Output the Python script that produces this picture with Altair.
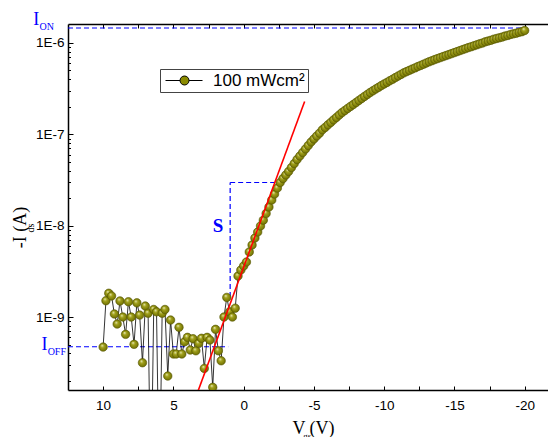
import altair as alt
import pandas as pd

# ---- measured transfer curve (gate voltage sweep, V) ----
vgs = [10.0, 9.8, 9.6, 9.4, 9.2, 9.0, 8.8, 8.6, 8.4, 8.2,
       8.0, 7.8, 7.6, 7.4, 7.2, 7.0, 6.8, 6.6, 6.4, 6.2,
       6.0, 5.8, 5.6, 5.4, 5.2, 5.0, 4.8, 4.6, 4.4, 4.2,
       4.0, 3.8, 3.6, 3.4, 3.2, 3.0, 2.8, 2.6, 2.4, 2.2,
       2.0, 1.8, 1.6, 1.4, 1.2, 1.0, 0.8, 0.6, 0.4, 0.2,
       0.0, -0.2, -0.4, -0.6, -0.8, -1.0, -1.2, -1.4, -1.6, -1.8,
       -2.0, -2.2, -2.4, -2.6, -2.8, -3.0, -3.2, -3.4, -3.6, -3.8,
       -4.0, -4.2, -4.4, -4.6, -4.8, -5.0, -5.2, -5.4, -5.6, -5.8,
       -6.0, -6.2, -6.4, -6.6, -6.8, -7.0, -7.2, -7.4, -7.6, -7.8,
       -8.0, -8.2, -8.4, -8.6, -8.8, -9.0, -9.2, -9.4, -9.6, -9.8,
       -10.0, -10.2, -10.4, -10.6, -10.8, -11.0, -11.2, -11.4, -11.6, -11.8,
       -12.0, -12.2, -12.4, -12.6, -12.8, -13.0, -13.2, -13.4, -13.6, -13.8,
       -14.0, -14.2, -14.4, -14.6, -14.8, -15.0, -15.2, -15.4, -15.6, -15.8,
       -16.0, -16.2, -16.4, -16.6, -16.8, -17.0, -17.2, -17.4, -17.6, -17.8,
       -18.0, -18.2, -18.4, -18.6, -18.8, -19.0, -19.2, -19.4, -19.6, -19.8,
       -20.0]

# -Ids in A (values below the axis floor are drawn off-chart, as in the figure)
ids = [4.69e-10, 1.51e-9, 1.82e-9, 1.70e-9, 1.08e-9, 8.38e-10, 1.50e-9, 1.00e-9, 6.46e-10, 1.47e-9,
       1.00e-9, 5.02e-10, 1.43e-9, 1.05e-9, 3.16e-10, 1.32e-9, 1.10e-9, 1e-11, 1.21e-9, 1.14e-9,
       1e-11, 1.10e-9, 1.21e-9, 2.26e-10, 9.27e-10, 3.94e-10, 3.94e-10, 7.71e-10, 3.94e-10, 5.36e-10,
       5.99e-10, 4.35e-10, 5.79e-10, 4.27e-10, 5.15e-10, 5.85e-10, 2.74e-10, 5.99e-10, 5.60e-10, 1.70e-10,
       7.33e-10, 4.27e-10, 3.32e-10, 1.00e-9, 1.64e-9, 1.14e-9, 1.00e-9, 1.25e-9, 2.81e-9, 3.27e-9,
       3.62e-9, 4.00e-9, 5.15e-9, 6.14e-9, 7.33e-9, 8.52e-9, 9.92e-9, 1.15e-8, 1.36e-8, 1.60e-8,
       1.91e-8, 2.22e-8, 2.58e-8, 2.97e-8, 3.28e-8, 3.59e-8, 3.92e-8, 4.33e-8, 4.79e-8, 5.30e-8,
       5.79e-8, 6.32e-8, 6.91e-8, 7.55e-8, 8.24e-8, 8.89e-8, 9.59e-8, 1.03e-7, 1.12e-7, 1.19e-7,
       1.27e-7, 1.35e-7, 1.44e-7, 1.53e-7, 1.63e-7, 1.73e-7, 1.82e-7, 1.92e-7, 2.02e-7, 2.12e-7,
       2.23e-7, 2.35e-7, 2.47e-7, 2.60e-7, 2.73e-7, 2.87e-7, 3.00e-7, 3.14e-7, 3.27e-7, 3.42e-7,
       3.56e-7, 3.70e-7, 3.86e-7, 4.01e-7, 4.18e-7, 4.35e-7, 4.53e-7, 4.71e-7, 4.86e-7, 5.02e-7,
       5.18e-7, 5.34e-7, 5.52e-7, 5.68e-7, 5.86e-7, 6.04e-7, 6.23e-7, 6.40e-7, 6.58e-7, 6.75e-7,
       6.92e-7, 7.10e-7, 7.28e-7, 7.46e-7, 7.65e-7, 7.85e-7, 8.05e-7, 8.26e-7, 8.47e-7, 8.68e-7,
       8.91e-7, 9.11e-7, 9.34e-7, 9.56e-7, 9.80e-7, 1.00e-6, 1.03e-6, 1.05e-6, 1.07e-6, 1.10e-6,
       1.12e-6, 1.14e-6, 1.16e-6, 1.19e-6, 1.21e-6, 1.24e-6, 1.26e-6, 1.28e-6, 1.31e-6, 1.33e-6,
       1.37e-6]

series_name = "100 mWcm\u00b2"

# ---- guide lines (I_ON, I_OFF, S triangle) ----
guide_v1 = [12.5, 12.5, 0.96, 0.96]
guide_v2 = [-20.0, 1.1, 0.96, -2.24]
guide_i1 = [1.46e-6, 4.73e-10, 1.66e-9, 2.97e-8]
guide_i2 = [1.46e-6, 4.73e-10, 2.97e-8, 2.97e-8]

# ---- subthreshold fit line ----
fit_v1 = [3.6]
fit_v2 = [-4.34]
fit_i1 = [1.10e-10]
fit_i2 = [2.29e-7]

# ---- annotations ----
ann_text = ["I", "ON", "I", "OFF"]
ann_v = [14.98, 14.52, 14.38, 13.95]
ann_i = [1.575e-6, 1.39e-6, 4.35e-10, 3.84e-10]
ann_size = [18, 10, 18, 10]

s_text = ["S"]
s_v = [1.815]
s_i = [8.53e-9]

sub_y_text = ["ds"]
sub_y_v = [15.12]
sub_y_i = [9.42e-9]

sub_x_text = ["gs"]
sub_x_v = [-4.52]
sub_x_i = [5.5e-11]

x_ticks = [-20, -17.5, -15, -12.5, -10, -7.5, -5, -2.5, 0, 2.5, 5, 7.5, 10]
y_ticks = [2e-10, 3e-10, 4e-10, 5e-10, 6e-10, 7e-10, 8e-10, 9e-10,
           1e-9, 2e-9, 3e-9, 4e-9, 5e-9, 6e-9, 7e-9, 8e-9, 9e-9,
           1e-8, 2e-8, 3e-8, 4e-8, 5e-8, 6e-8, 7e-8, 8e-8, 9e-8,
           1e-7, 2e-7, 3e-7, 4e-7, 5e-7, 6e-7, 7e-7, 8e-7, 9e-7,
           1e-6]

X_DOMAIN = [-21.66, 12.5]
Y_DOMAIN = [1.589e-10, 1.614e-6]

xscale = alt.Scale(domain=X_DOMAIN, reverse=True, nice=False, zero=False)
yscale = alt.Scale(type="log", domain=Y_DOMAIN, nice=False)

curve = pd.DataFrame({"V": vgs, "I": ids, "series": series_name})
guides = pd.DataFrame({"V": guide_v1, "V2": guide_v2, "I": guide_i1, "I2": guide_i2})
fit = pd.DataFrame({"V": fit_v1, "V2": fit_v2, "I": fit_i1, "I2": fit_i2})
ann = pd.DataFrame({"V": ann_v, "I": ann_i, "t": ann_text, "fs": ann_size})
sdf = pd.DataFrame({"V": s_v, "I": s_i, "t": s_text})
suby = pd.DataFrame({"V": sub_y_v, "I": sub_y_i, "t": sub_y_text})
subx = pd.DataFrame({"V": sub_x_v, "I": sub_x_i, "t": sub_x_text})
legend_df = pd.DataFrame({"V": [0.0], "I": [1e-8], "series": [series_name]})

decade_test = "abs(log(datum.value)/LN10 - round(log(datum.value)/LN10)) < 0.01"

x_bottom_axis = alt.Axis(
    orient="bottom", values=x_ticks,
    labelExpr="datum.value % 5 == 0 ? '' + datum.value : ''",
    labelFont="Liberation Sans", labelFontSize=13.5, labelColor="black", labelPadding=8,
    ticks=False, domainColor="black", domainWidth=1.5,
    grid=True, gridColor="black", gridWidth=1, gridOpacity=1, gridDash=[4, 358, 4, 100],
    title="V   (V)", titleFont="Liberation Serif", titleFontSize=18, titleFontWeight="normal",
    titleColor="black", titleX=245, titleY=43, titleAlign="center", titleBaseline="alphabetic",
)
x_top_axis = alt.Axis(orient="top", labels=False, ticks=False, grid=False,
                      domainColor="black", domainWidth=1.5, title=None)
# the x scale is reversed, so y grid lines run from the right edge to the left one:
# a zero-length first dash leaves only a short inward tick at the left frame
y_axis = alt.Axis(
    orient="left", values=y_ticks,
    labelExpr=decade_test + " ? '1E' + round(log(datum.value)/LN10) : ''",
    labelFont="Liberation Sans", labelFontSize=13.5, labelColor="black", labelPadding=4,
    ticks=False, domainColor="black", domainWidth=1.5,
    grid=True, gridColor="black", gridWidth=1, gridOpacity=1,
    gridDash={"condition": {"test": decade_test, "value": [0, 475, 5, 100]},
              "value": [0, 477.5, 2.5, 100]},
    title="-I    (A)", titleFont="Liberation Serif", titleFontSize=18, titleFontWeight="normal",
    titleColor="black", titleX=-48, titleY=203, titleAngle=270, titleAlign="center",
    titleBaseline="middle",
)

def X(field="V", axis=None):
    return alt.X(f"{field}:Q", scale=xscale, axis=axis)

def Y(field="I"):
    return alt.Y(f"{field}:Q", scale=yscale, axis=y_axis)

guide_layer = alt.Chart(guides).mark_rule(color="#0000ff", strokeWidth=1.2, strokeDash=[5, 3]).encode(
    x=X(), x2="V2:Q", y=Y(), y2="I2:Q")

line_layer = alt.Chart(curve).mark_line(color="black", strokeWidth=0.8, clip=True).encode(
    x=X(axis=x_bottom_axis), y=Y())

marker_fill = {
    "gradient": "radial", "x1": 0.36, "y1": 0.3, "r1": 0, "x2": 0.5, "y2": 0.5, "r2": 0.55,
    "stops": [{"offset": 0, "color": "#f3f3cf"}, {"offset": 0.35, "color": "#a3a31c"},
              {"offset": 1, "color": "#6a6a00"}],
}
point_layer = alt.Chart(curve).mark_point(filled=True, fill=marker_fill, stroke="#555500",
                                          strokeWidth=0.6, size=72, opacity=1, clip=True).encode(
    x=X(), y=Y())

fit_layer = alt.Chart(fit).mark_rule(color="#ff0000", strokeWidth=1.6, clip=True).encode(
    x=X(), x2="V2:Q", y=Y(), y2="I2:Q")

ann_layer = alt.Chart(ann).mark_text(font="Liberation Serif", color="#0000ff", align="left",
                                     baseline="alphabetic").encode(
    x=X(), y=Y(), text="t:N", size=alt.Size("fs:Q", scale=None))

s_layer = alt.Chart(sdf).mark_text(font="Liberation Serif", color="#0000ff", fontSize=19,
                                   fontWeight="bold", align="center", baseline="alphabetic").encode(
    x=X(), y=Y(), text="t:N")

suby_layer = alt.Chart(suby).mark_text(font="Liberation Serif", color="black", fontSize=10,
                                       angle=270, align="center", baseline="middle").encode(
    x=X(), y=Y(), text="t:N")

subx_layer = alt.Chart(subx).mark_text(font="Liberation Serif", color="black", fontSize=9,
                                       align="center", baseline="top").encode(
    x=X(), y=Y(), text="t:N")

legend_symbol = "M-1,0L1.42,0M2.92,0L5.17,0M1.42,0A0.75,0.75,0,1,1,2.92,0A0.75,0.75,0,1,1,1.42,0Z"
legend_layer = alt.Chart(legend_df).transform_filter("false").mark_point(
    filled=True, fill="#8a8a00", stroke="black", strokeWidth=1).encode(
    x=X(axis=x_top_axis), y=Y(),
    opacity=alt.Opacity("series:N", scale=alt.Scale(domain=[series_name], range=[1]),
                        legend=alt.Legend(orient="none", legendX=92, legendY=45, title=None,
                                          symbolType=legend_symbol, symbolSize=144,
                                          symbolStrokeWidth=1, labelOffset=33,
                                          labelFont="Liberation Sans", labelFontSize=17,
                                          labelColor="black", labelLimit=300,
                                          padding=3, strokeColor="#444444", fillColor="white")))

chart = alt.layer(
    guide_layer, line_layer, point_layer, fit_layer, ann_layer, s_layer,
    suby_layer, subx_layer, legend_layer,
).resolve_axis(x="independent").properties(
    width=480, height=366,
    autosize=alt.AutoSizeParams(type="none"),
    padding={"left": 68, "top": 24, "right": 0, "bottom": 47},
    background="white",
).configure_view(strokeWidth=0)

chart.save("out.html", embed_options={"renderer": "svg", "actions": False})
